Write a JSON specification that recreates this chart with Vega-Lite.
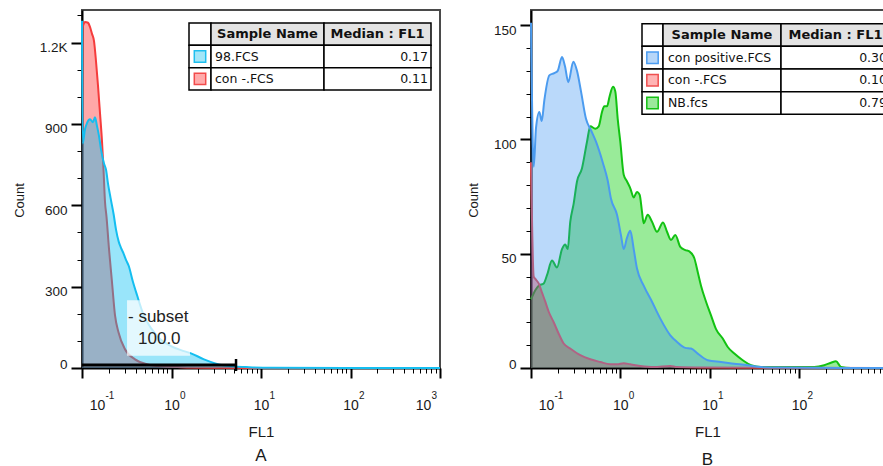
{
"$schema": "https://vega.github.io/schema/vega-lite/v6.json",
"padding": {"left": 12, "top": 9, "right": 0, "bottom": 0},
"bounds": "flush",
"spacing": 91,
"resolve": {"scale": {"fill": "independent", "stroke": "independent"}},
"config": {
  "view": {"stroke": "#4a4a4a", "strokeWidth": 2},
  "font": "Liberation Sans",
  "axis": {"zindex": 1, "domainColor": "#000", "domainWidth": 2, "tickColor": "#000", "labelColor": "#1a1a1a", "labelFont": "Liberation Sans", "labelFontSize": 13.5, "titleFont": "Liberation Sans", "titleFontSize": 15, "titleFontWeight": "normal", "titleColor": "#1a1a1a", "grid": false, "labelFlush": false, "labelOverlap": false},
  "title": {"font": "Liberation Sans", "fontSize": 17, "fontWeight": "normal", "color": "#1a1a1a"}
},
"datasets": {
  "a": [
    {"sample":"con -.FCS","fl1":0.1,"count":1250},{"sample":"con -.FCS","fl1":0.1026,"count":1262},{"sample":"con -.FCS","fl1":0.108,"count":1276},{"sample":"con -.FCS","fl1":0.1167,"count":1273},{"sample":"con -.FCS","fl1":0.1228,"count":1258},{"sample":"con -.FCS","fl1":0.1294,"count":1232},{"sample":"con -.FCS","fl1":0.1361,"count":1206},{"sample":"con -.FCS","fl1":0.1433,"count":1132},{"sample":"con -.FCS","fl1":0.151,"count":1040},{"sample":"con -.FCS","fl1":0.1589,"count":940},{"sample":"con -.FCS","fl1":0.1673,"count":836},{"sample":"con -.FCS","fl1":0.1739,"count":732},{"sample":"con -.FCS","fl1":0.1807,"count":613},{"sample":"con -.FCS","fl1":0.1878,"count":558},{"sample":"con -.FCS","fl1":0.2003,"count":439},{"sample":"con -.FCS","fl1":0.2163,"count":317},{"sample":"con -.FCS","fl1":0.2337,"count":195},{"sample":"con -.FCS","fl1":0.2557,"count":132},{"sample":"con -.FCS","fl1":0.3022,"count":69},{"sample":"con -.FCS","fl1":0.391,"count":32},{"sample":"con -.FCS","fl1":0.5324,"count":14},{"sample":"con -.FCS","fl1":0.7633,"count":6},{"sample":"con -.FCS","fl1":1.277,"count":3},{"sample":"con -.FCS","fl1":3.573,"count":1},{"sample":"con -.FCS","fl1":10,"count":0},{"sample":"con -.FCS","fl1":1000,"count":0},
    {"sample":"98.FCS","fl1":0.1,"count":1280},{"sample":"98.FCS","fl1":0.1018,"count":828},{"sample":"98.FCS","fl1":0.108,"count":880},{"sample":"98.FCS","fl1":0.1137,"count":903},{"sample":"98.FCS","fl1":0.1228,"count":917},{"sample":"98.FCS","fl1":0.1327,"count":906},{"sample":"98.FCS","fl1":0.1397,"count":925},{"sample":"98.FCS","fl1":0.1471,"count":892},{"sample":"98.FCS","fl1":0.1549,"count":855},{"sample":"98.FCS","fl1":0.1631,"count":806},{"sample":"98.FCS","fl1":0.1761,"count":754},{"sample":"98.FCS","fl1":0.1854,"count":732},{"sample":"98.FCS","fl1":0.1952,"count":680},{"sample":"98.FCS","fl1":0.2082,"count":628},{"sample":"98.FCS","fl1":0.2261,"count":565},{"sample":"98.FCS","fl1":0.2399,"count":510},{"sample":"98.FCS","fl1":0.2571,"count":466},{"sample":"98.FCS","fl1":0.2728,"count":443},{"sample":"98.FCS","fl1":0.2922,"count":421},{"sample":"98.FCS","fl1":0.3101,"count":399},{"sample":"98.FCS","fl1":0.3324,"count":377},{"sample":"98.FCS","fl1":0.3713,"count":317},{"sample":"98.FCS","fl1":0.4116,"count":269},{"sample":"98.FCS","fl1":0.4891,"count":195},{"sample":"98.FCS","fl1":0.5901,"count":147},{"sample":"98.FCS","fl1":0.7438,"count":107},{"sample":"98.FCS","fl1":0.987,"count":81},{"sample":"98.FCS","fl1":1.277,"count":66},{"sample":"98.FCS","fl1":1.652,"count":54},{"sample":"98.FCS","fl1":2.307,"count":32},{"sample":"98.FCS","fl1":3.224,"count":15},{"sample":"98.FCS","fl1":4.993,"count":6},{"sample":"98.FCS","fl1":7.343,"count":3},{"sample":"98.FCS","fl1":12.93,"count":1},{"sample":"98.FCS","fl1":1000,"count":0}
  ],
  "b": [
    {"sample":"con -.FCS","fl1":0.1,"count":90},{"sample":"con -.FCS","fl1":0.1072,"count":40},{"sample":"con -.FCS","fl1":0.1117,"count":39},{"sample":"con -.FCS","fl1":0.122,"count":37},{"sample":"con -.FCS","fl1":0.1328,"count":33},{"sample":"con -.FCS","fl1":0.1446,"count":29},{"sample":"con -.FCS","fl1":0.1579,"count":24.6},{"sample":"con -.FCS","fl1":0.1796,"count":20},{"sample":"con -.FCS","fl1":0.2043,"count":15},{"sample":"con -.FCS","fl1":0.2323,"count":10.7},{"sample":"con -.FCS","fl1":0.2754,"count":8.5},{"sample":"con -.FCS","fl1":0.3565,"count":5.6},{"sample":"con -.FCS","fl1":0.4615,"count":3.8},{"sample":"con -.FCS","fl1":0.5971,"count":2.6},{"sample":"con -.FCS","fl1":0.7727,"count":1.6},{"sample":"con -.FCS","fl1":0.9183,"count":1.6},{"sample":"con -.FCS","fl1":1.092,"count":2.1},{"sample":"con -.FCS","fl1":1.294,"count":1.6},{"sample":"con -.FCS","fl1":1.675,"count":0.9},{"sample":"con -.FCS","fl1":2.366,"count":0.4},{"sample":"con -.FCS","fl1":3.631,"count":0.9},{"sample":"con -.FCS","fl1":4.315,"count":0.4},{"sample":"con -.FCS","fl1":8.01,"count":0.2},{"sample":"con -.FCS","fl1":897,"count":0},
    {"sample":"NB.fcs","fl1":0.1,"count":30},{"sample":"NB.fcs","fl1":0.1117,"count":34},{"sample":"NB.fcs","fl1":0.122,"count":36},{"sample":"NB.fcs","fl1":0.1388,"count":37},{"sample":"NB.fcs","fl1":0.1511,"count":40.6},{"sample":"NB.fcs","fl1":0.1718,"count":47},{"sample":"NB.fcs","fl1":0.1955,"count":44},{"sample":"NB.fcs","fl1":0.2224,"count":52},{"sample":"NB.fcs","fl1":0.2422,"count":54},{"sample":"NB.fcs","fl1":0.2576,"count":52},{"sample":"NB.fcs","fl1":0.2754,"count":64},{"sample":"NB.fcs","fl1":0.3008,"count":72},{"sample":"NB.fcs","fl1":0.3274,"count":81.6},{"sample":"NB.fcs","fl1":0.3725,"count":87.4},{"sample":"NB.fcs","fl1":0.4238,"count":99},{"sample":"NB.fcs","fl1":0.4615,"count":105.7},{"sample":"NB.fcs","fl1":0.5248,"count":104.7},{"sample":"NB.fcs","fl1":0.573,"count":105.7},{"sample":"NB.fcs","fl1":0.624,"count":112},{"sample":"NB.fcs","fl1":0.6619,"count":114.5},{"sample":"NB.fcs","fl1":0.7097,"count":114.5},{"sample":"NB.fcs","fl1":0.7606,"count":119},{"sample":"NB.fcs","fl1":0.8285,"count":123},{"sample":"NB.fcs","fl1":0.879,"count":121},{"sample":"NB.fcs","fl1":0.9352,"count":109},{"sample":"NB.fcs","fl1":1.0,"count":99},{"sample":"NB.fcs","fl1":1.092,"count":84.5},{"sample":"NB.fcs","fl1":1.189,"count":81.6},{"sample":"NB.fcs","fl1":1.294,"count":78.6},{"sample":"NB.fcs","fl1":1.413,"count":74.6},{"sample":"NB.fcs","fl1":1.538,"count":77},{"sample":"NB.fcs","fl1":1.648,"count":75.7},{"sample":"NB.fcs","fl1":1.749,"count":68.4},{"sample":"NB.fcs","fl1":1.828,"count":63.3},{"sample":"NB.fcs","fl1":2.027,"count":67},{"sample":"NB.fcs","fl1":2.265,"count":64},{"sample":"NB.fcs","fl1":2.576,"count":59.6},{"sample":"NB.fcs","fl1":3.007,"count":63.7},{"sample":"NB.fcs","fl1":3.334,"count":59.6},{"sample":"NB.fcs","fl1":3.694,"count":56},{"sample":"NB.fcs","fl1":4.129,"count":58.2},{"sample":"NB.fcs","fl1":4.697,"count":53},{"sample":"NB.fcs","fl1":5.344,"count":51.6},{"sample":"NB.fcs","fl1":5.928,"count":51},{"sample":"NB.fcs","fl1":6.745,"count":48},{"sample":"NB.fcs","fl1":7.36,"count":42},{"sample":"NB.fcs","fl1":8.01,"count":36},{"sample":"NB.fcs","fl1":9.12,"count":29},{"sample":"NB.fcs","fl1":10.37,"count":23},{"sample":"NB.fcs","fl1":11.8,"count":17},{"sample":"NB.fcs","fl1":14.03,"count":12.9},{"sample":"NB.fcs","fl1":15.96,"count":9.2},{"sample":"NB.fcs","fl1":18.92,"count":6.3},{"sample":"NB.fcs","fl1":23.5,"count":3.4},{"sample":"NB.fcs","fl1":29.1,"count":1.2},{"sample":"NB.fcs","fl1":37.6,"count":0.4},{"sample":"NB.fcs","fl1":148.7,"count":0.4},{"sample":"NB.fcs","fl1":192.3,"count":1.2},{"sample":"NB.fcs","fl1":228.6,"count":2.3},{"sample":"NB.fcs","fl1":260,"count":2.9},{"sample":"NB.fcs","fl1":295.9,"count":0.5},{"sample":"NB.fcs","fl1":383,"count":0},{"sample":"NB.fcs","fl1":897,"count":0},
    {"sample":"con positive.FCS","fl1":0.1,"count":151},{"sample":"con positive.FCS","fl1":0.1072,"count":88},{"sample":"con positive.FCS","fl1":0.1138,"count":105},{"sample":"con positive.FCS","fl1":0.1239,"count":112},{"sample":"con positive.FCS","fl1":0.1318,"count":108},{"sample":"con positive.FCS","fl1":0.1409,"count":117},{"sample":"con positive.FCS","fl1":0.1603,"count":128},{"sample":"con positive.FCS","fl1":0.1824,"count":129},{"sample":"con positive.FCS","fl1":0.1991,"count":130},{"sample":"con positive.FCS","fl1":0.2224,"count":136},{"sample":"con positive.FCS","fl1":0.2402,"count":132},{"sample":"con positive.FCS","fl1":0.2617,"count":125},{"sample":"con positive.FCS","fl1":0.2977,"count":134},{"sample":"con positive.FCS","fl1":0.3274,"count":130},{"sample":"con positive.FCS","fl1":0.363,"count":121},{"sample":"con positive.FCS","fl1":0.4128,"count":109},{"sample":"con positive.FCS","fl1":0.4697,"count":104},{"sample":"con positive.FCS","fl1":0.5344,"count":99},{"sample":"con positive.FCS","fl1":0.6352,"count":90},{"sample":"con positive.FCS","fl1":0.7227,"count":82},{"sample":"con positive.FCS","fl1":0.7867,"count":74},{"sample":"con positive.FCS","fl1":0.9183,"count":67},{"sample":"con positive.FCS","fl1":1.018,"count":58},{"sample":"con positive.FCS","fl1":1.092,"count":52},{"sample":"con positive.FCS","fl1":1.189,"count":57},{"sample":"con positive.FCS","fl1":1.294,"count":60},{"sample":"con positive.FCS","fl1":1.413,"count":52},{"sample":"con positive.FCS","fl1":1.538,"count":43.5},{"sample":"con positive.FCS","fl1":1.828,"count":36},{"sample":"con positive.FCS","fl1":2.265,"count":29},{"sample":"con positive.FCS","fl1":2.805,"count":21.6},{"sample":"con positive.FCS","fl1":3.631,"count":14.3},{"sample":"con positive.FCS","fl1":4.315,"count":11.4},{"sample":"con positive.FCS","fl1":5.344,"count":8.8},{"sample":"con positive.FCS","fl1":6.19,"count":8.5},{"sample":"con positive.FCS","fl1":7.36,"count":6.3},{"sample":"con positive.FCS","fl1":9.52,"count":3.4},{"sample":"con positive.FCS","fl1":13.43,"count":2.6},{"sample":"con positive.FCS","fl1":18.77,"count":1.9},{"sample":"con positive.FCS","fl1":26.7,"count":1.2},{"sample":"con positive.FCS","fl1":37.6,"count":0.4},{"sample":"con positive.FCS","fl1":60,"count":0.2},{"sample":"con positive.FCS","fl1":897,"count":0}
  ],
  "gate": [{"gate":"subset","lo":0.1,"hi":5.26,"freq":100.0}],
  "ta": [{"name":"Sample Name","median":"Median : FL1","kind":"header"},{"name":"98.FCS","median":"0.17","kind":"sample"},{"name":"con -.FCS","median":"0.11","kind":"sample"}],
  "tb": [{"name":"Sample Name","median":"Median : FL1","kind":"header"},{"name":"con positive.FCS","median":"0.30","kind":"sample"},{"name":"con -.FCS","median":"0.10","kind":"sample"},{"name":"NB.fcs","median":"0.79","kind":"sample"}]
},
"hconcat": [
{
  "width": 358, "height": 358,
  "title": {"text": "A", "orient": "bottom", "offset": 9},
  "resolve": {"scale": {"y": "independent"}, "axis": {"y": "independent", "x": "independent"}},
  "layer": [
  {
    "resolve": {"axis": {"x": "independent", "y": "independent"}},
    "layer": [
      {"data": {"name": "a"}, "transform": [{"filter": "datum.sample === 'con -.FCS'"}],
       "mark": {"type": "area", "fill": "#FF0000", "fillOpacity": 0.34, "interpolate": "monotone"},
       "encoding": {
         "x": {"field": "fl1", "type": "quantitative", "scale": {"type": "log", "domain": [0.1, 1000], "nice": false},
               "axis": {"values": [0.1,0.2,0.3,0.4,0.5,0.6,0.7,0.8,0.9,1,2,3,4,5,6,7,8,9,10,20,30,40,50,60,70,80,90,100,200,300,400,500,600,700,800,900,1000],
                        "labelExpr": "indexof([0.1,1,10,100,1000], datum.value) >= 0 ? '10' : ''",
                        "tickSize": {"condition": {"test": "indexof([0.1,1,10,100,1000], datum.value) >= 0", "value": 10}, "value": 5},
                        "tickWidth": {"condition": {"test": "indexof([0.1,1,10,100,1000], datum.value) >= 0", "value": 2}, "value": 1},
                        "labelOffset": {"condition": [{"test": "datum.value < 0.15", "value": 15}, {"test": "datum.value > 999", "value": -17}], "value": 0},
                        "labelFontSize": 14, "labelPadding": 20, "labelBaseline": "top", "labelOverlap": false, "title": "FL1", "titlePadding": 12, "orient": "bottom"}},
         "y": {"field": "count", "type": "quantitative", "scale": {"domain": [0, 1320], "nice": false},
               "axis": {"values": [0,100,200,300,400,500,600,700,800,900,1000,1100,1200,1300],
                        "labelExpr": "datum.value % 300 === 0 ? (datum.value >= 1000 ? format(datum.value / 1000, '.1f') + 'K' : format(datum.value, 'd')) : ''",
                        "tickSize": {"condition": {"test": "datum.value % 300 === 0", "value": 11}, "value": 5},
                        "tickWidth": {"condition": {"test": "datum.value % 300 === 0", "value": 2}, "value": 1},
                        "labelOffset": {"condition": {"test": "datum.value === 0", "value": -4}, "value": 5},
                        "labelOverlap": false, "labelPadding": 4, "title": "Count", "titleFontSize": 13, "titlePadding": 13, "titleY": 190, "orient": "left"}}
       }},
      {"data": {"name": "a"}, "transform": [{"filter": "datum.sample === 'con -.FCS'"}],
       "mark": {"type": "line", "color": "#F53C3C", "strokeWidth": 2, "interpolate": "monotone"},
       "encoding": {
         "x": {"field": "fl1", "type": "quantitative", "scale": {"type": "log", "domain": [0.1, 1000], "nice": false},
               "axis": {"values": [0.1,1,10,100,1000],
                        "labelExpr": "datum.value < 0.5 ? '-1' : datum.value < 5 ? '0' : datum.value < 50 ? '1' : datum.value < 500 ? '2' : '3'",
                        "ticks": false, "domain": false, "labelFontSize": 10, "labelAlign": "left", "labelBaseline": "top", "labelOverlap": false,
                        "labelOffset": {"condition": [{"test": "datum.value < 0.15", "value": 23}, {"test": "datum.value > 999", "value": -9}], "value": 8},
                        "labelPadding": 22, "title": null, "orient": "bottom"}},
         "y": {"field": "count", "type": "quantitative", "scale": {"domain": [0, 1320], "nice": false}, "axis": null}
       }},
      {"data": {"name": "a"}, "transform": [{"filter": "datum.sample === '98.FCS'"}],
       "mark": {"type": "area", "fill": "#00BEF2", "fillOpacity": 0.4, "interpolate": "monotone"},
       "encoding": {
         "x": {"field": "fl1", "type": "quantitative", "scale": {"type": "log", "domain": [0.1, 1000], "nice": false}, "axis": null},
         "y": {"field": "count", "type": "quantitative", "scale": {"domain": [0, 1320], "nice": false}, "axis": null}
       }},
      {"data": {"name": "a"}, "transform": [{"filter": "datum.sample === '98.FCS'"}],
       "mark": {"type": "line", "color": "#14BEF0", "strokeWidth": 2, "interpolate": "monotone"},
       "encoding": {
         "x": {"field": "fl1", "type": "quantitative", "scale": {"type": "log", "domain": [0.1, 1000], "nice": false}, "axis": null},
         "y": {"field": "count", "type": "quantitative", "scale": {"domain": [0, 1320], "nice": false}, "axis": null}
       }},
      {"data": {"name": "gate"},
       "mark": {"type": "rule", "color": "#000", "strokeWidth": 3},
       "encoding": {
         "x": {"field": "lo", "type": "quantitative", "scale": {"type": "log", "domain": [0.1, 1000], "nice": false}, "axis": null},
         "x2": {"field": "hi"},
         "y": {"datum": 11, "type": "quantitative", "scale": {"domain": [0, 1320], "nice": false}, "axis": null}
       }},
      {"data": {"name": "gate"},
       "mark": {"type": "tick", "orient": "vertical", "color": "#000", "thickness": 2.5, "size": 12, "opacity": 1},
       "encoding": {
         "x": {"field": "hi", "type": "quantitative", "scale": {"type": "log", "domain": [0.1, 1000], "nice": false}, "axis": null},
         "y": {"datum": 11, "type": "quantitative", "scale": {"domain": [0, 1320], "nice": false}, "axis": null}
       }},
      {"data": {"name": "gate"},
       "mark": {"type": "rect", "fill": "#ffffff", "fillOpacity": 0.72},
       "encoding": {
         "x": {"datum": 0.3185, "type": "quantitative", "scale": {"type": "log", "domain": [0.1, 1000], "nice": false}, "axis": null},
         "x2": {"datum": 1.61},
         "y": {"datum": 250, "type": "quantitative", "scale": {"domain": [0, 1320], "nice": false}, "axis": null},
         "y2": {"datum": 45}
       }},
      {"data": {"name": "gate"},
       "mark": {"type": "text", "align": "left", "baseline": "middle", "fontSize": 17, "color": "#222"},
       "encoding": {
         "x": {"datum": 0.3266, "type": "quantitative", "scale": {"type": "log", "domain": [0.1, 1000], "nice": false}, "axis": null},
         "y": {"datum": 188, "type": "quantitative", "scale": {"domain": [0, 1320], "nice": false}, "axis": null},
         "text": {"value": "- subset"}
       }},
      {"data": {"name": "gate"},
       "mark": {"type": "text", "align": "left", "baseline": "middle", "fontSize": 17, "color": "#222"},
       "encoding": {
         "x": {"datum": 0.4226, "type": "quantitative", "scale": {"type": "log", "domain": [0.1, 1000], "nice": false}, "axis": null},
         "y": {"datum": 107, "type": "quantitative", "scale": {"domain": [0, 1320], "nice": false}, "axis": null},
         "text": {"field": "freq", "type": "quantitative", "format": ".1f"}
       }}
    ]
  },
  {
    "data": {"name": "ta"},
    "encoding": {"y": {"field": "name", "type": "nominal", "scale": {"type": "band", "domain": ["Sample Name", "98.FCS", "con -.FCS"], "range": [13, 80], "paddingInner": 0, "paddingOuter": 0}, "axis": null}},
    "layer": [
      {"mark": {"type": "rect", "fill": "#ffffff", "stroke": "#000", "strokeWidth": 1.5}, "encoding": {"x": {"value": 107}, "x2": {"value": 129}}},
      {"mark": {"type": "rect", "stroke": "#000", "strokeWidth": 1.5}, "encoding": {"x": {"value": 129}, "x2": {"value": 242}, "fill": {"condition": {"test": "datum.kind === 'header'", "value": "#E3E3E3"}, "value": "#ffffff"}}},
      {"mark": {"type": "rect", "stroke": "#000", "strokeWidth": 1.5}, "encoding": {"x": {"value": 242}, "x2": {"value": 349}, "fill": {"condition": {"test": "datum.kind === 'header'", "value": "#E3E3E3"}, "value": "#ffffff"}}},
      {"transform": [{"filter": "datum.kind === 'sample'"}],
       "mark": {"type": "point", "shape": "square", "size": 130, "filled": true, "strokeWidth": 1.5, "opacity": 1},
       "encoding": {"x": {"value": 118},
         "fill": {"field": "name", "type": "nominal", "scale": {"domain": ["98.FCS", "con -.FCS"], "range": ["#A2E6F8", "#FFABAB"]}, "legend": null},
         "stroke": {"field": "name", "type": "nominal", "scale": {"domain": ["98.FCS", "con -.FCS"], "range": ["#1EBFEF", "#F24B4B"]}, "legend": null}}},
      {"transform": [{"filter": "datum.kind === 'header'"}],
       "mark": {"type": "text", "font": "DejaVu Sans", "fontWeight": "bold", "fontSize": 13, "align": "center", "color": "#111"},
       "encoding": {"x": {"value": 185.5}, "text": {"field": "name"}}},
      {"transform": [{"filter": "datum.kind === 'header'"}],
       "mark": {"type": "text", "font": "DejaVu Sans", "fontWeight": "bold", "fontSize": 13, "align": "center", "color": "#111"},
       "encoding": {"x": {"value": 295.5}, "text": {"field": "median"}}},
      {"transform": [{"filter": "datum.kind === 'sample'"}],
       "mark": {"type": "text", "font": "DejaVu Sans", "fontSize": 12.5, "align": "left", "color": "#111"},
       "encoding": {"x": {"value": 133}, "text": {"field": "name"}}},
      {"transform": [{"filter": "datum.kind === 'sample'"}],
       "mark": {"type": "text", "font": "DejaVu Sans", "fontSize": 12.5, "align": "right", "color": "#111"},
       "encoding": {"x": {"value": 346}, "text": {"field": "median"}}}
    ]
  }
  ]
},
{
  "width": 353, "height": 358,
  "title": {"text": "B", "orient": "bottom", "offset": 13},
  "resolve": {"scale": {"y": "independent"}, "axis": {"y": "independent", "x": "independent"}},
  "layer": [
  {
    "resolve": {"axis": {"x": "independent", "y": "independent"}},
    "layer": [
      {"data": {"name": "b"}, "transform": [{"filter": "datum.sample === 'NB.fcs'"}],
       "mark": {"type": "area", "fill": "#00CC00", "fillOpacity": 0.4, "interpolate": "monotone"},
       "encoding": {
         "x": {"field": "fl1", "type": "quantitative", "scale": {"type": "log", "domain": [0.1, 897], "nice": false},
               "axis": {"values": [0.1,0.2,0.3,0.4,0.5,0.6,0.7,0.8,0.9,1,2,3,4,5,6,7,8,9,10,20,30,40,50,60,70,80,90,100,200,300,400,500,600,700,800],
                        "labelExpr": "indexof([0.1,1,10,100,1000], datum.value) >= 0 ? '10' : ''",
                        "tickSize": {"condition": {"test": "indexof([0.1,1,10,100,1000], datum.value) >= 0", "value": 10}, "value": 5},
                        "tickWidth": {"condition": {"test": "indexof([0.1,1,10,100,1000], datum.value) >= 0", "value": 2}, "value": 1},
                        "labelOffset": {"condition": [{"test": "datum.value < 0.15", "value": 15}], "value": 0},
                        "labelFontSize": 14, "labelPadding": 20, "labelBaseline": "top", "labelOverlap": false, "title": "FL1", "titlePadding": 12, "orient": "bottom"}},
         "y": {"field": "count", "type": "quantitative", "scale": {"domain": [0, 156.6], "nice": false},
               "axis": {"values": [0,10,20,30,40,50,60,70,80,90,100,110,120,130,140,150],
                        "labelExpr": "datum.value % 50 === 0 ? format(datum.value, 'd') : ''",
                        "tickSize": {"condition": {"test": "datum.value % 50 === 0", "value": 11}, "value": 5},
                        "tickWidth": {"condition": {"test": "datum.value % 50 === 0", "value": 2}, "value": 1},
                        "labelOffset": {"condition": {"test": "datum.value === 0", "value": -4}, "value": 5},
                        "labelOverlap": false, "labelPadding": 4, "title": "Count", "titleFontSize": 13, "titlePadding": 13, "titleY": 190, "orient": "left"}}
       }},
      {"data": {"name": "b"}, "transform": [{"filter": "datum.sample === 'NB.fcs'"}],
       "mark": {"type": "line", "color": "#12C212", "strokeWidth": 2, "interpolate": "monotone"},
       "encoding": {
         "x": {"field": "fl1", "type": "quantitative", "scale": {"type": "log", "domain": [0.1, 897], "nice": false},
               "axis": {"values": [0.1,1,10,100],
                        "labelExpr": "datum.value < 0.5 ? '-1' : datum.value < 5 ? '0' : datum.value < 50 ? '1' : '2'",
                        "ticks": false, "domain": false, "labelFontSize": 10, "labelAlign": "left", "labelBaseline": "top", "labelOverlap": false,
                        "labelOffset": {"condition": [{"test": "datum.value < 0.15", "value": 23}], "value": 8},
                        "labelPadding": 22, "title": null, "orient": "bottom"}},
         "y": {"field": "count", "type": "quantitative", "scale": {"domain": [0, 156.6], "nice": false}, "axis": null}
       }},
      {"data": {"name": "b"}, "transform": [{"filter": "datum.sample === 'con -.FCS'"}],
       "mark": {"type": "area", "fill": "#FF0000", "fillOpacity": 0.34, "interpolate": "monotone"},
       "encoding": {
         "x": {"field": "fl1", "type": "quantitative", "scale": {"type": "log", "domain": [0.1, 897], "nice": false}, "axis": null},
         "y": {"field": "count", "type": "quantitative", "scale": {"domain": [0, 156.6], "nice": false}, "axis": null}
       }},
      {"data": {"name": "b"}, "transform": [{"filter": "datum.sample === 'con -.FCS'"}],
       "mark": {"type": "line", "color": "#F05050", "strokeWidth": 2, "interpolate": "monotone"},
       "encoding": {
         "x": {"field": "fl1", "type": "quantitative", "scale": {"type": "log", "domain": [0.1, 897], "nice": false}, "axis": null},
         "y": {"field": "count", "type": "quantitative", "scale": {"domain": [0, 156.6], "nice": false}, "axis": null}
       }},
      {"data": {"name": "b"}, "transform": [{"filter": "datum.sample === 'con positive.FCS'"}],
       "mark": {"type": "area", "fill": "#2F8CF0", "fillOpacity": 0.33, "interpolate": "monotone"},
       "encoding": {
         "x": {"field": "fl1", "type": "quantitative", "scale": {"type": "log", "domain": [0.1, 897], "nice": false}, "axis": null},
         "y": {"field": "count", "type": "quantitative", "scale": {"domain": [0, 156.6], "nice": false}, "axis": null}
       }},
      {"data": {"name": "b"}, "transform": [{"filter": "datum.sample === 'con positive.FCS'"}],
       "mark": {"type": "line", "color": "#4B9BEF", "strokeWidth": 2, "interpolate": "monotone"},
       "encoding": {
         "x": {"field": "fl1", "type": "quantitative", "scale": {"type": "log", "domain": [0.1, 897], "nice": false}, "axis": null},
         "y": {"field": "count", "type": "quantitative", "scale": {"domain": [0, 156.6], "nice": false}, "axis": null}
       }}
    ]
  },
  {
    "data": {"name": "tb"},
    "encoding": {"y": {"field": "name", "type": "nominal", "scale": {"type": "band", "domain": ["Sample Name", "con positive.FCS", "con -.FCS", "NB.fcs"], "range": [13.7, 104.3], "paddingInner": 0, "paddingOuter": 0}, "axis": null}},
    "layer": [
      {"mark": {"type": "rect", "fill": "#ffffff", "stroke": "#000", "strokeWidth": 1.5, "clip": true}, "encoding": {"x": {"value": 111}, "x2": {"value": 132}}},
      {"mark": {"type": "rect", "stroke": "#000", "strokeWidth": 1.5, "clip": true}, "encoding": {"x": {"value": 132}, "x2": {"value": 250}, "fill": {"condition": {"test": "datum.kind === 'header'", "value": "#E3E3E3"}, "value": "#ffffff"}}},
      {"mark": {"type": "rect", "stroke": "#000", "strokeWidth": 1.5, "clip": true}, "encoding": {"x": {"value": 250}, "x2": {"value": 359}, "fill": {"condition": {"test": "datum.kind === 'header'", "value": "#E3E3E3"}, "value": "#ffffff"}}},
      {"transform": [{"filter": "datum.kind === 'sample'"}],
       "mark": {"type": "point", "shape": "square", "size": 130, "filled": true, "strokeWidth": 1.5, "opacity": 1},
       "encoding": {"x": {"value": 121.5},
         "fill": {"field": "name", "type": "nominal", "scale": {"domain": ["con positive.FCS", "con -.FCS", "NB.fcs"], "range": ["#B6D6F8", "#FFB4B4", "#9CE89C"]}, "legend": null},
         "stroke": {"field": "name", "type": "nominal", "scale": {"domain": ["con positive.FCS", "con -.FCS", "NB.fcs"], "range": ["#4B9DF2", "#F05050", "#14C014"]}, "legend": null}}},
      {"transform": [{"filter": "datum.kind === 'header'"}],
       "mark": {"type": "text", "font": "DejaVu Sans", "fontWeight": "bold", "fontSize": 13, "align": "center", "color": "#111", "clip": true},
       "encoding": {"x": {"value": 191}, "text": {"field": "name"}}},
      {"transform": [{"filter": "datum.kind === 'header'"}],
       "mark": {"type": "text", "font": "DejaVu Sans", "fontWeight": "bold", "fontSize": 13, "align": "center", "color": "#111", "clip": true},
       "encoding": {"x": {"value": 304.5}, "text": {"field": "median"}}},
      {"transform": [{"filter": "datum.kind === 'sample'"}],
       "mark": {"type": "text", "font": "DejaVu Sans", "fontSize": 12.5, "align": "left", "color": "#111", "clip": true},
       "encoding": {"x": {"value": 137}, "text": {"field": "name"}}},
      {"transform": [{"filter": "datum.kind === 'sample'"}],
       "mark": {"type": "text", "font": "DejaVu Sans", "fontSize": 12.5, "align": "right", "color": "#111", "clip": true},
       "encoding": {"x": {"value": 356}, "text": {"field": "median"}}}
    ]
  }
  ]
}
]
}
